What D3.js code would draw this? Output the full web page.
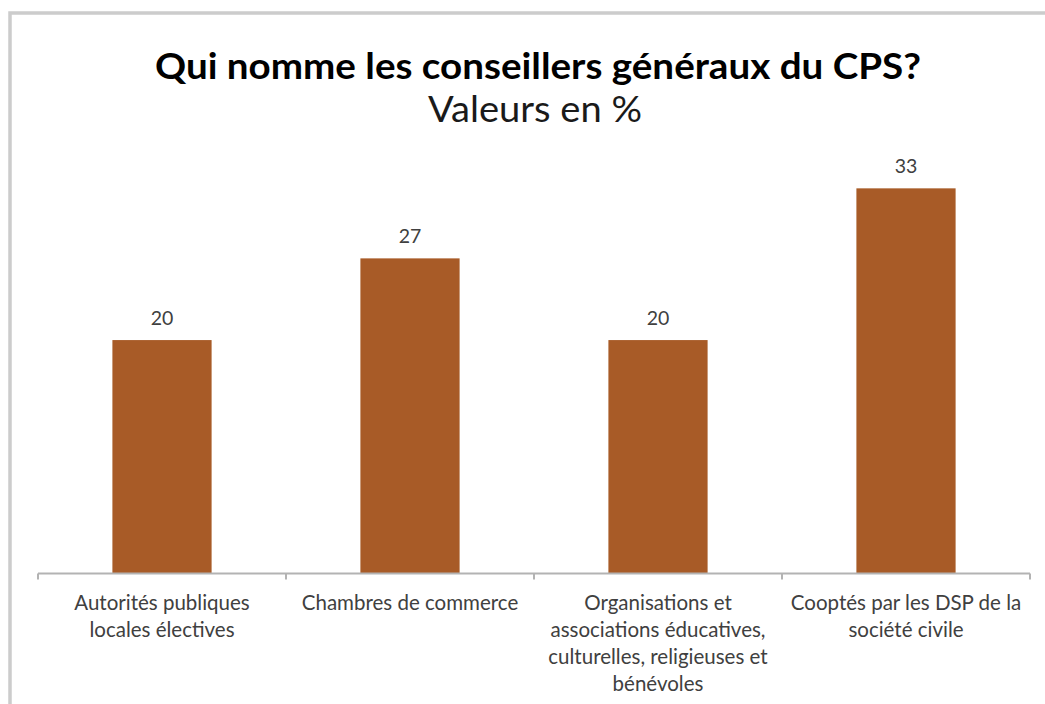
<!DOCTYPE html>
<html>
<head>
<meta charset="utf-8">
<script src="https://cdn.jsdelivr.net/npm/d3@7"></script>
<style>
  html, body { margin: 0; padding: 0; background: #fff; }
  svg { display: block; }
</style>
</head>
<body>
<svg id="chart" width="1045" height="704"></svg>
<script>
// Who appoints the general councillors of the CPS (values in %)
const categories = [
  ["Autorités publiques", "locales électives"],
  ["Chambres de commerce"],
  ["Organisations et", "associations éducatives,", "culturelles, religieuses et", "bénévoles"],
  ["Cooptés par les DSP de la", "société civile"]
];
const values = [20, 27, 20, 33];
const titleText = "Qui nomme les conseillers généraux du CPS?";
const subtitleText = "Valeurs en %";

const svg = d3.select("#chart");
const font = "Lato, 'Open Sans', sans-serif";

// chart frame
svg.append("path")
  .attr("d", "M10,706 L10,13 L1050,13")
  .attr("fill", "none")
  .attr("stroke", "#cccccc")
  .attr("stroke-width", 3.5);

// titles
svg.append("text")
  .attr("x", 538).attr("y", 79)
  .attr("text-anchor", "middle")
  .attr("font-family", font)
  .attr("font-weight", "bold")
  .attr("font-size", 36)
  .attr("textLength", 766)
  .attr("lengthAdjust", "spacingAndGlyphs")
  .attr("fill", "#000")
  .text(titleText);

svg.append("text")
  .attr("x", 535).attr("y", 122)
  .attr("text-anchor", "middle")
  .attr("font-family", font)
  .attr("font-size", 36)
  .attr("textLength", 214)
  .attr("lengthAdjust", "spacingAndGlyphs")
  .attr("fill", "#1a1a1a")
  .text(subtitleText);

const idx = d3.range(values.length);
const x = d3.scaleBand().domain(idx).range([38, 1030]).paddingInner(0.6).paddingOuter(0.3);
const y = d3.scaleLinear().domain([0, 35]).range([573.5, 165]);

// bars
svg.append("g").selectAll("rect")
  .data(idx)
  .join("rect")
  .attr("x", i => x(i))
  .attr("y", i => y(values[i]))
  .attr("width", x.bandwidth())
  .attr("height", i => y(0) - y(values[i]))
  .attr("fill", "#a85b27");

// value labels
svg.append("g").selectAll("text")
  .data(idx)
  .join("text")
  .attr("x", i => x(i) + x.bandwidth() / 2)
  .attr("y", i => y(values[i]) - 15)
  .attr("text-anchor", "middle")
  .attr("font-family", font)
  .attr("font-size", 19.5)
  .attr("fill", "#404040")
  .text(i => values[i]);

// category axis with ticks at band boundaries
const edges = d3.range(values.length + 1).map(k => 38 + k * (992 / values.length));
const axisG = svg.append("g");
axisG.append("line")
  .attr("x1", edges[0]).attr("x2", edges[edges.length - 1])
  .attr("y1", y(0)).attr("y2", y(0))
  .attr("stroke", "#b3b3b3").attr("stroke-width", 2);
axisG.selectAll("line.tick")
  .data(edges)
  .join("line")
  .attr("class", "tick")
  .attr("x1", d => d).attr("x2", d => d)
  .attr("y1", y(0)).attr("y2", y(0) + 6)
  .attr("stroke", "#b3b3b3").attr("stroke-width", 2);

// category labels
const labelG = svg.append("g");
idx.forEach(i => {
  const t = labelG.append("text")
    .attr("text-anchor", "middle")
    .attr("font-family", font)
    .attr("font-size", 20.5)
    .attr("fill", "#404040");
  categories[i].forEach((line, j) => {
    t.append("tspan")
      .attr("x", x(i) + x.bandwidth() / 2)
      .attr("y", 610 + j * 27)
      .text(line);
  });
});
</script>
</body>
</html>
